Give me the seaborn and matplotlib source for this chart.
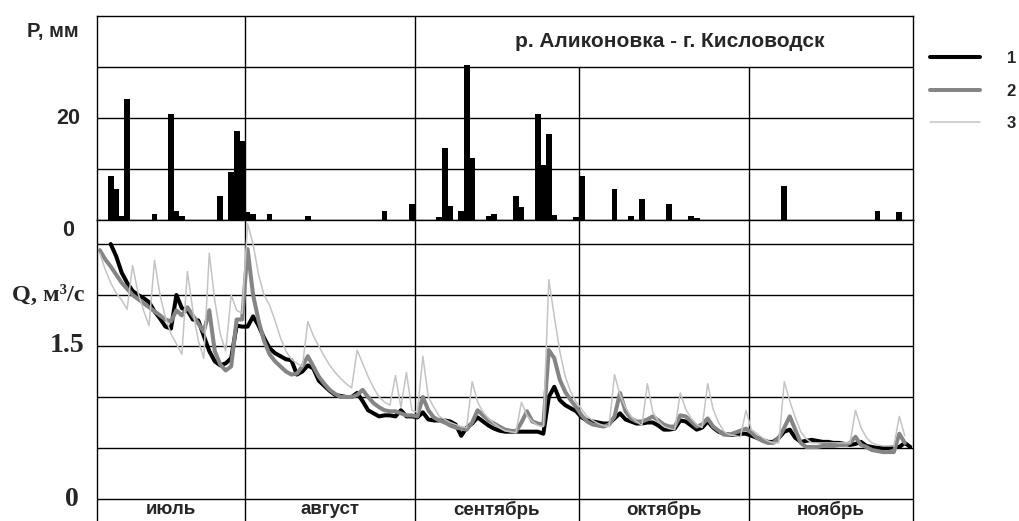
import matplotlib
matplotlib.use("Agg")
import numpy as np
import pandas as pd
import seaborn as sns
import matplotlib.pyplot as plt
from matplotlib.lines import Line2D
from matplotlib.transforms import blended_transform_factory

# ---------------- data ----------------
months = ["июль", "август", "сентябрь", "октябрь", "ноябрь"]
month_days = [31, 31, 30, 31, 30]          # day 1 = 1 July
first_day = 5                               # first plotted day (5 July)
title = "р. Аликоновка - г. Кисловодск"
legend_labels = ["1", "2", "3"]

# daily precipitation, mm (day number, value)
precip_day = [7, 8, 9, 10, 15, 18, 19, 20, 27, 29, 30, 31, 32, 33, 36, 43,
              57, 62, 67, 68, 69, 71, 72, 73, 76, 77, 81, 82, 85, 86, 87, 88,
              92, 93, 99, 102, 104, 109, 113, 114, 130, 147, 151]
precip_mm = [8.7, 6.1, 0.8, 23.8, 1.1, 20.8, 1.8, 0.8, 4.8, 9.4, 17.5, 15.4, 1.5, 1.1, 1.1, 0.7,
             1.8, 3.1, 0.6, 14.2, 2.8, 1.8, 30.4, 12.1, 0.8, 1.1, 4.8, 2.5, 20.8, 10.8, 16.8, 1.0,
             0.5, 8.7, 6.1, 0.8, 4.1, 3.1, 0.8, 0.4, 6.7, 1.8, 1.5]

# series 1 (black) daily discharge, m3/s, from day 7
q1_start = 7
q1 = [2.50, 2.38, 2.22, 2.12, 2.04, 2.00, 1.97, 1.93, 1.84, 1.77, 1.69, 1.67, 2.00, 1.87,
      1.85, 1.76, 1.75, 1.60, 1.45, 1.35, 1.31, 1.33, 1.38, 1.70, 1.69,            # to day 31
      1.69, 1.79, 1.70, 1.58, 1.48, 1.43, 1.40, 1.37, 1.36, 1.22, 1.25, 1.31, 1.28, 1.16,
      1.11, 1.06, 1.02, 1.01, 1.00, 1.00, 1.04, 0.96, 0.87, 0.84, 0.81, 0.82, 0.82, 0.81,
      0.87, 0.81, 0.81,                                                            # to day 62
      0.80, 0.85, 0.78, 0.77, 0.77, 0.77, 0.76, 0.73, 0.62, 0.70, 0.74, 0.80, 0.76, 0.72,
      0.69, 0.67, 0.66, 0.66, 0.66, 0.66, 0.66, 0.66, 0.66, 0.64, 1.00, 1.10, 0.97, 0.92,
      0.89, 0.86,                                                                  # to day 92
      0.80, 0.77, 0.76, 0.75, 0.74, 0.74, 0.79, 0.84, 0.78, 0.76, 0.74, 0.74, 0.75, 0.75,
      0.72, 0.68, 0.68, 0.69, 0.77, 0.76, 0.72, 0.68, 0.70, 0.76, 0.70, 0.66, 0.64, 0.63,
      0.63, 0.64, 0.64,                                                            # to day 123
      0.62, 0.60, 0.58, 0.56, 0.56, 0.60, 0.66, 0.68, 0.60, 0.56, 0.57, 0.58, 0.57, 0.56,
      0.56, 0.55, 0.55, 0.54, 0.53, 0.54, 0.56, 0.52, 0.51, 0.50, 0.50, 0.50, 0.51, 0.51,
      0.55, 0.51]                                                                  # to day 153

# series 2 (grey) and 3 (light grey), from day 5
q23_start = 5
q2 = [2.44, 2.35, 2.28, 2.20, 2.12, 2.06, 2.00, 1.96, 1.92, 1.88, 1.84, 1.80, 1.76, 1.74,
      1.85, 1.80, 1.88, 1.80, 1.72, 1.64, 1.85, 1.45, 1.32, 1.26, 1.30, 1.76, 1.76,  # to day 31
      2.45, 2.00, 1.75, 1.55, 1.42, 1.35, 1.30, 1.25, 1.22, 1.23, 1.30, 1.40, 1.30, 1.20,
      1.13, 1.07, 1.03, 1.00, 1.00, 1.00, 1.02, 1.07, 1.00, 0.94, 0.90, 0.87, 0.86, 0.86,
      0.84, 0.82, 0.82,                                                            # to day 62
      0.81, 1.00, 0.87, 0.80, 0.77, 0.75, 0.72, 0.70, 0.69, 0.68, 0.75, 0.87, 0.82, 0.77,
      0.74, 0.71, 0.68, 0.67, 0.66, 0.75, 0.86, 0.76, 0.74, 0.73, 1.46, 1.38, 1.17, 1.05,
      0.97, 0.90,                                                                  # to day 92
      0.82, 0.76, 0.73, 0.72, 0.71, 0.73, 0.81, 1.04, 0.86, 0.79, 0.76, 0.76, 0.78, 0.81,
      0.77, 0.73, 0.71, 0.71, 0.82, 0.81, 0.76, 0.71, 0.73, 0.79, 0.71, 0.67, 0.63, 0.63,
      0.65, 0.67, 0.69,                                                            # to day 123
      0.65, 0.60, 0.57, 0.55, 0.55, 0.60, 0.70, 0.81, 0.68, 0.55, 0.51, 0.51, 0.51, 0.52,
      0.52, 0.52, 0.53, 0.53, 0.55, 0.61, 0.53, 0.51, 0.48, 0.47, 0.46, 0.46, 0.46, 0.64,
      0.55]                                                                        # to day 153
q3 = [2.41, 2.25, 2.12, 2.02, 1.95, 1.86, 2.29, 2.02, 1.85, 1.70, 2.34, 2.00, 1.78, 1.62,
      1.52, 1.42, 2.23, 1.85, 1.55, 1.38, 2.41, 1.95, 1.62, 1.45, 2.00, 1.85, 1.82,  # to day 31
      2.70, 2.50, 2.20, 2.00, 1.90, 1.75, 1.58, 1.45, 1.37, 1.33, 1.30, 1.74, 1.60, 1.50,
      1.40, 1.31, 1.24, 1.18, 1.13, 1.09, 1.46, 1.33, 1.20, 1.09, 1.00, 0.95, 0.92, 1.21,
      0.90, 1.24, 0.87,                                                            # to day 62
      0.85, 1.40, 1.00, 0.90, 0.81, 0.78, 0.75, 0.73, 0.71, 0.70, 1.15, 0.95, 0.85, 0.79,
      0.74, 0.70, 0.67, 0.66, 0.65, 0.95, 0.82, 0.76, 0.72, 0.71, 2.15, 1.79, 1.45, 1.20,
      1.05, 0.95,                                                                  # to day 92
      0.88, 0.81, 0.77, 0.74, 0.72, 0.71, 1.22, 1.02, 0.90, 0.81, 0.76, 0.72, 1.13, 0.85,
      0.76, 0.71, 0.69, 0.68, 1.04, 0.88, 0.79, 0.73, 0.70, 1.13, 0.88, 0.75, 0.66, 0.63,
      0.62, 0.61, 0.87,                                                            # to day 123
      0.68, 0.64, 0.60, 0.57, 0.55, 0.55, 1.15, 0.96, 0.80, 0.66, 0.59, 0.55, 0.55, 0.55,
      0.55, 0.55, 0.55, 0.55, 0.55, 0.87, 0.70, 0.60, 0.55, 0.53, 0.52, 0.52, 0.52, 0.81,
      0.62]                                                                        # to day 153

p_ticks = [0, 20]
p_grid = [10, 20, 30]
q_ticks = [0, 1.5]
q_grid = [0, 0.5, 1.0, 1.5, 2.0, 2.5]

# ---------------- figure ----------------
sns.set_style("white")
SANS = "Liberation Sans"
SERIF = "Liberation Serif"
plt.rcParams["font.family"] = [SANS, "DejaVu Sans"]

W, H = 1020, 521
fig = plt.figure(figsize=(W / 100, H / 100), dpi=100)
L, R = 97, 913
ax_p = fig.add_axes([L / W, (H - 220) / H, (R - L) / W, 204 / H])
ax_q = fig.add_axes([L / W, 0, (R - L) / W, 301 / H])

x0 = first_day - 0.5
x1 = first_day - 0.5 + sum(month_days) - (first_day - 1)
bounds = np.cumsum(month_days) + 0.5          # month boundaries
starts = np.concatenate([[x0], bounds[:-1]])
centers = (starts + bounds) / 2

GL = dict(color="black", lw=1.0)

# ---- precipitation panel ----
sns.barplot(x=precip_day, y=precip_mm, native_scale=True, width=1.05,
            color="black", saturation=1, linewidth=0, errorbar=None, ax=ax_p, zorder=3)
ax_p.set_xlim(x0, x1)
ax_p.set_ylim(0, 40)
for g in p_grid:
    ax_p.axhline(g, zorder=2, **GL)
# month dividers: the title band (30-40 mm) covers dividers after September
for b, full in zip(bounds[:-1], [True, True, False, False]):
    ax_p.axvline(b, ymin=0, ymax=1 if full else 0.75, zorder=2, **GL)
for s in ax_p.spines.values():
    s.set_color("black"); s.set_linewidth(1.0)
ax_p.set_xticks([]); ax_p.set_yticks([])
ax_p.set_xlabel(""); ax_p.set_ylabel("")
ax_p.text((670 - L) / (R - L), 35, title, transform=blended_transform_factory(ax_p.transAxes, ax_p.transData),
          ha="center", va="center", fontsize=15, fontweight="bold", family=SANS)

# ---- discharge panel ----
d1 = np.arange(q1_start, q1_start + len(q1))
d23 = np.arange(q23_start, q23_start + len(q2))
styles = [("#000000", 2.9), ("#858585", 2.9), ("#c4c4c4", 1.1)]
sns.lineplot(x=d1, y=q1, ax=ax_q, color=styles[0][0], lw=styles[0][1], zorder=4)
sns.lineplot(x=d23, y=q2, ax=ax_q, color=styles[1][0], lw=styles[1][1], zorder=5)
sns.lineplot(x=d23, y=q3, ax=ax_q, color=styles[2][0], lw=styles[2][1], zorder=6)
ax_q.set_xlim(x0, x1)
ax_q.set_ylim((499 - 521) / 102, (499 - 220) / 102)
for g in q_grid:
    ax_q.axhline(g, zorder=2, **GL)
for b in bounds[:-1]:
    ax_q.axvline(b, zorder=2, **GL)
for k, s in ax_q.spines.items():
    s.set_color("black"); s.set_linewidth(1.0)
ax_q.spines["bottom"].set_visible(False)
ax_q.set_xticks([]); ax_q.set_yticks([])
ax_q.set_xlabel(""); ax_q.set_ylabel("")
for c, m in zip(centers, months):
    ax_q.text(c, -0.105, m, ha="center", va="center", fontsize=13.5,
              fontweight="bold", family=SANS)

# ---- axis labels ----
tp = blended_transform_factory(fig.transFigure, ax_p.transData)
tq = blended_transform_factory(fig.transFigure, ax_q.transData)
ax_p.text(53 / W, 37, "P, мм", transform=tp, ha="center", va="center",
          fontsize=14.5, fontweight="bold", family=SANS)
ax_p.text(68 / W, p_ticks[1], str(p_ticks[1]), transform=tp, ha="center", va="center",
          fontsize=15.5, fontweight="bold", family=SANS)
ax_p.text(68 / W, p_ticks[0], str(p_ticks[0]), transform=tp, ha="center", va="top",
          fontsize=15.5, fontweight="bold", family=SANS)
ax_q.text(48 / W, 2.0, "Q, м³/с", transform=tq, ha="center", va="center",
          fontsize=17.5, fontweight="bold", family=SERIF)
ax_q.text(85 / W, q_ticks[1], "1.5", transform=tq, ha="right", va="center",
          fontsize=20, fontweight="bold", family=SERIF)
ax_q.text(79 / W, q_ticks[0], "0", transform=tq, ha="right", va="center",
          fontsize=20, fontweight="bold", family=SERIF)

# ---- legend ----
handles = [Line2D([], [], color=c, lw=lw) for c, lw in styles]
fig.legend(handles, legend_labels, loc="upper left",
           bbox_to_anchor=(930 / W, 1 - 51 / H), frameon=False,
           handlelength=3.0, handletextpad=1.6, labelspacing=1.05,
           borderpad=0, borderaxespad=0,
           prop=dict(family=SANS, weight="bold", size=12))

fig.savefig("out.png", dpi=100, facecolor="white")
